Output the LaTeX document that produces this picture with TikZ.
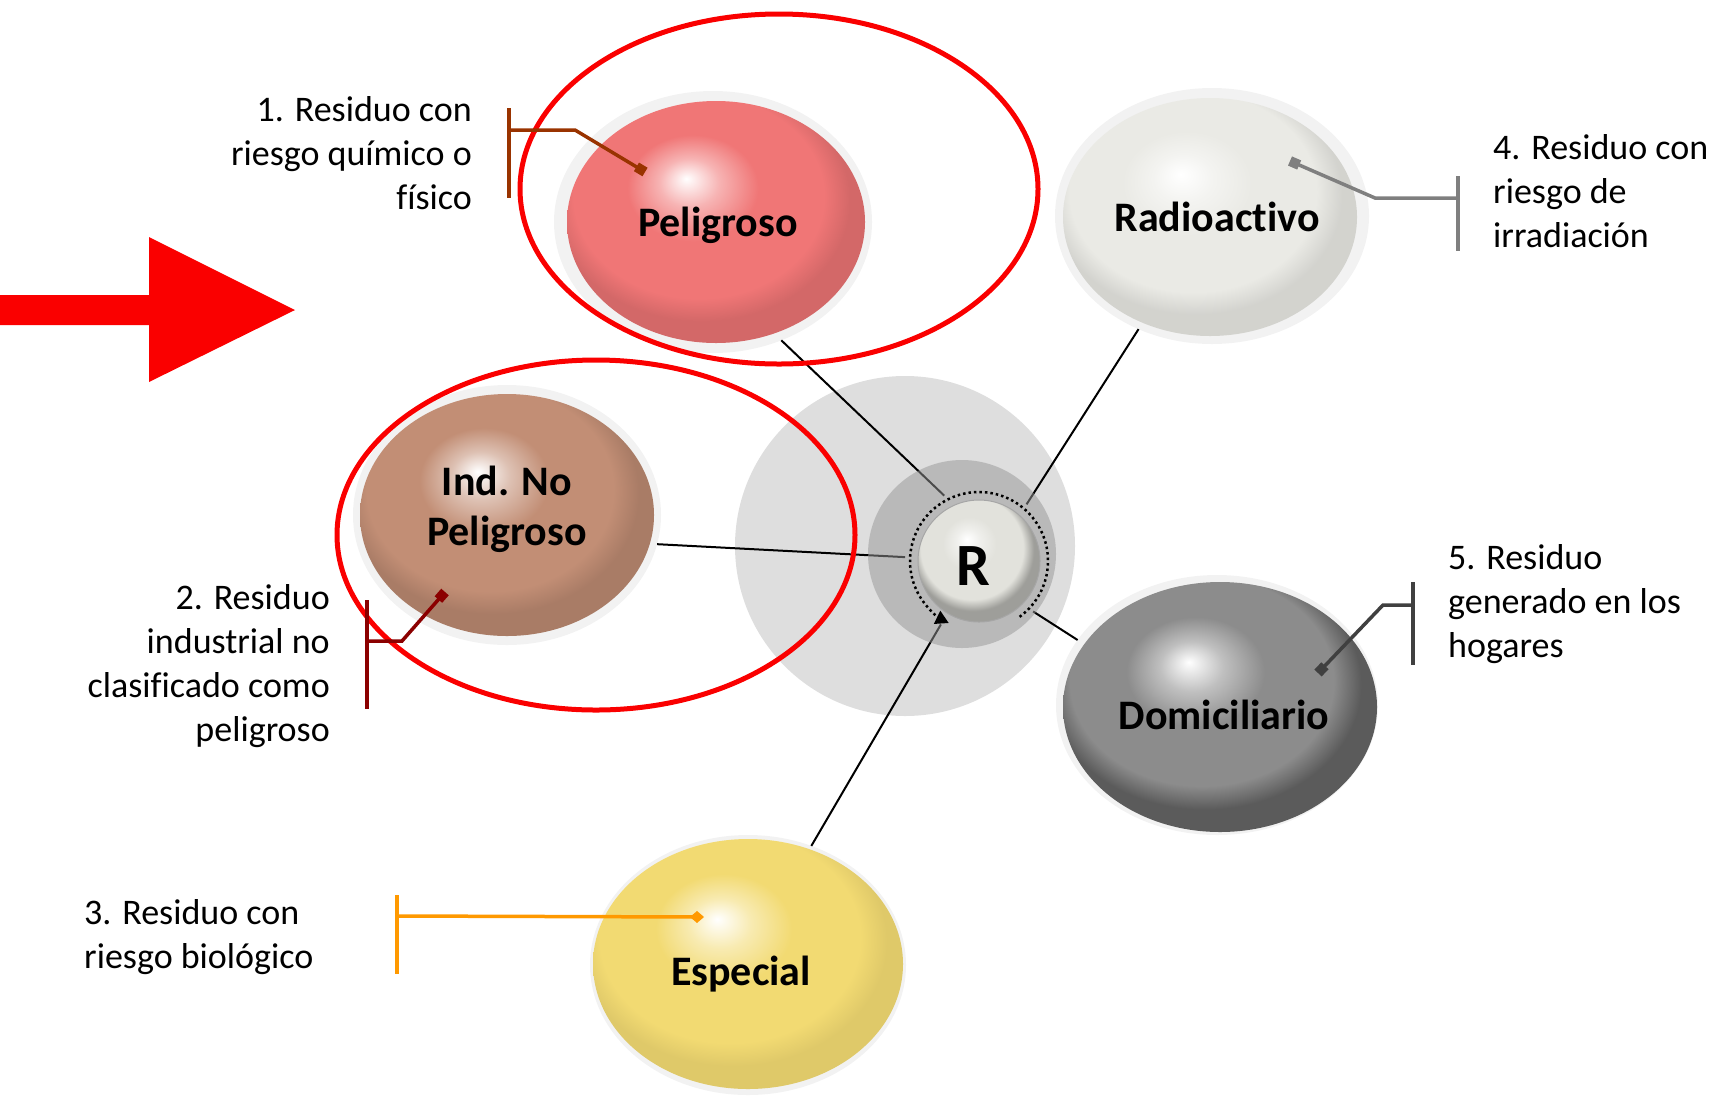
\documentclass[tikz,border=0pt]{standalone}
\usepackage{fontspec}
\setmainfont[Ligatures=NoCommon]{Carlito}
\usetikzlibrary{shapes.geometric,arrows.meta}

\definecolor{pelc}{RGB}{240,118,118}
\definecolor{radc}{RGB}{234,234,229}
\definecolor{indc}{RGB}{194,142,117}
\definecolor{domc}{RGB}{140,140,140}
\definecolor{espc}{RGB}{242,218,114}
\definecolor{rcc}{RGB}{226,226,220}
\definecolor{bigc}{RGB}{222,222,222}
\definecolor{haloc}{RGB}{242,242,242}
\definecolor{cone}{RGB}{153,51,0}
\definecolor{ctwo}{RGB}{139,0,0}
\definecolor{cthree}{RGB}{255,153,0}
\definecolor{cfour}{RGB}{127,127,127}
\definecolor{cfive}{RGB}{64,64,64}
\definecolor{redc}{RGB}{250,0,0}

\newcommand\mksphereshade[3]{%
\pgfdeclareradialshading{#1}{\pgfpoint{-5bp}{9bp}}{color(0bp)=(white); color(5bp)=(#2!55!white); color(11bp)=(#2); color(21bp)=(#2); color(25bp)=(#2!#3!black); color(50bp)=(#2!#3!black)}}
\mksphereshade{pelsh}{pelc}{88}
\mksphereshade{radsh}{radc}{90}
\mksphereshade{indsh}{indc}{87}
\mksphereshade{domsh}{domc}{65}
\mksphereshade{espsh}{espc}{92}
\mksphereshade{rsh}{rcc}{70}

\tikzset{
  sphere/.style={ellipse, inner sep=0pt, outer sep=0pt, shade, shading=#1},
  lab/.style={font=\fontsize{42}{50}\selectfont\bfseries, align=center, text=black, inner sep=0pt},
  halo/.style={ellipse, inner sep=0pt, outer sep=0pt, fill=haloc},
  redring/.style={ellipse, inner sep=0pt, outer sep=0pt, draw=redc, line width=5pt},
  conn/.style={draw=black, line width=2pt},
  callout/.style={line width=3.5pt},
  note/.style={font=\fontsize{36}{44}\selectfont, inner sep=0pt, text=black},
}

\begin{document}
\begin{tikzpicture}[x=1pt,y=-1pt]
\useasboundingbox (0,0) rectangle (1728,1096);

% red arrow
\fill[redc] (0,295) -- (149,295) -- (149,237) -- (295,310) -- (149,382) -- (149,325) -- (0,325) -- cycle;

% central disc
\node[circle, fill=bigc, minimum size=340pt, inner sep=0pt] (big) at (905,546) {};

% halos
\node[halo, minimum width=318pt, minimum height=262pt] (pelh) at (713,222) {};
\node[halo, minimum width=314pt, minimum height=256pt] (radh) at (1212,216) {};
\node[halo, minimum width=308pt, minimum height=260pt] (indh) at (507,515) {};
\node[halo, minimum width=322pt, minimum height=260pt] (domh) at (1217,705) {};
\node[halo, minimum width=316pt, minimum height=260pt] (esph) at (748,965) {};

% ring for connector ends
\node[circle, minimum size=148pt, inner sep=0pt, outer sep=0pt] (ring) at (979,561) {};

% connectors
\draw[conn] (pelh.-60) -- (ring.118);
\draw[conn] (radh.-123) -- (ring.50);
\draw[conn] (indh.-11) -- (ring.177);
\draw[conn] (domh.155) -- (ring.-43);
\draw[conn] (esph.62) -- (ring.-121);

% medium disc (semi-transparent over lines)
\node[circle, fill={rgb,255:red,150;green,150;blue,150}, fill opacity=0.5, minimum size=188pt, inner sep=0pt] (mid) at (962,554) {};

% spheres
\node[sphere=pelsh, minimum width=298pt, minimum height=242pt] (pel) at (716,222) {};
\node[sphere=radsh, minimum width=294pt, minimum height=238pt] (rad) at (1210,217) {};
\node[sphere=indsh, minimum width=294pt, minimum height=242pt] (ind) at (507,515) {};
\node[sphere=domsh, minimum width=314pt, minimum height=250pt] (dom) at (1220,707) {};
\node[sphere=espsh, minimum width=310pt, minimum height=250pt] (esp) at (748,964) {};
\node[sphere=rsh, minimum width=122pt, minimum height=122pt, draw=black!35, line width=1pt] (rc) at (979,561) {};

% sphere labels
\node[lab] (pell) at ([shift={(2,3)}]pel) {Peligroso};
\node[lab] (radl) at ([shift={(7,0)}]rad) {Radioactivo};
\node[lab] (indl) at ([shift={(0,-6)}]ind) {Ind. No\\Peligroso};
\node[lab] (doml) at ([shift={(4,8)}]dom) {Domiciliario};
\node[lab] (espl) at ([shift={(-7,10)}]esp) {Especial};
\node[lab, font=\fontsize{60}{60}\selectfont\bfseries] (rcl) at ([shift={(-6,5)}]rc) {R};

% dotted circular arrow
\draw[line width=2.5pt, dash pattern=on 2.5pt off 3pt, -{Triangle[length=13pt,width=14pt]}] ([shift={(-54:69pt)}]rc.center) arc[start angle=-54, end angle=244, radius=69pt];

% red highlight rings
\node[redring, minimum width=518pt, minimum height=350pt] (hlone) at (779,189) {};
\node[redring, minimum width=518pt, minimum height=350pt] (hltwo) at (596,535) {};

% callout 1
\coordinate (aone) at (509,108); \coordinate (bone) at (509,198);
\coordinate (mone) at (509,130); \coordinate (kone) at (575,130); \coordinate (done) at (645,172);
\draw[callout, cone] (aone) -- (bone);
\draw[callout, cone, -{Square[length=10pt,width=10pt]}] (mone) -- (kone) -- (done);
\node[note, anchor=north east, align=right] (tone) at (472,96) {1. Residuo con\\riesgo químico o\\físico};

% callout 2
\coordinate (atwo) at (367,600); \coordinate (btwo) at (367,709);
\coordinate (mtwo) at (367,641); \coordinate (ktwo) at (402,641); \coordinate (dtwo) at (445,592);
\draw[callout, ctwo] (atwo) -- (btwo);
\draw[callout, ctwo, -{Square[length=10pt,width=10pt]}] (mtwo) -- (ktwo) -- (dtwo);
\node[note, anchor=north east, align=right] (ttwo) at (330,584) {2. Residuo\\industrial no\\clasificado como\\peligroso};

% callout 3
\coordinate (athree) at (397,895); \coordinate (bthree) at (397,974);
\coordinate (mthree) at (397,916); \coordinate (dthree) at (704,917);
\draw[callout, cthree] (athree) -- (bthree);
\draw[callout, cthree, -{Diamond[length=14pt,width=12pt]}] (mthree) -- (dthree);
\node[note, anchor=north west, align=left] (tthree) at (84,899) {3. Residuo con\\riesgo biológico};

% callout 4
\coordinate (afour) at (1458,176); \coordinate (bfour) at (1458,251);
\coordinate (mfour) at (1458,198); \coordinate (kfour) at (1375,198); \coordinate (dfour) at (1290,161);
\draw[callout, cfour] (afour) -- (bfour);
\draw[callout, cfour, -{Square[length=10pt,width=10pt]}] (mfour) -- (kfour) -- (dfour);
\node[note, anchor=north west, align=left] (tfour) at (1493,134) {4. Residuo con\\riesgo de\\irradiación};

% callout 5
\coordinate (afive) at (1413,582); \coordinate (bfive) at (1413,665);
\coordinate (mfive) at (1413,605); \coordinate (kfive) at (1383,605); \coordinate (dfive) at (1318,673);
\draw[callout, cfive] (afive) -- (bfive);
\draw[callout, cfive, -{Square[length=10pt,width=10pt]}] (mfive) -- (kfive) -- (dfive);
\node[note, anchor=north west, align=left] (tfive) at (1448,544) {5. Residuo\\generado en los\\hogares};
\end{tikzpicture}
\end{document}
